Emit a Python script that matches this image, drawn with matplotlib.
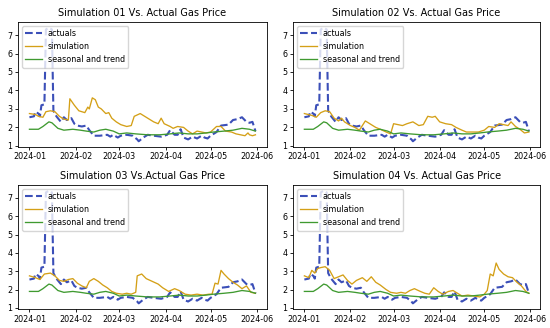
import pandas as pd
import matplotlib.pyplot as plt

# shared actual gas price
act_dates = ['2024-01-01', '2024-01-04', '2024-01-05', '2024-01-07', '2024-01-08', '2024-01-09',
             '2024-01-11', '2024-01-12', '2024-01-14', '2024-01-16', '2024-01-17', '2024-01-19',
             '2024-01-22', '2024-01-24', '2024-01-26', '2024-01-29', '2024-01-31', '2024-02-02',
             '2024-02-05', '2024-02-08', '2024-02-10', '2024-02-13', '2024-02-17', '2024-02-22',
             '2024-02-24', '2024-02-26', '2024-02-29', '2024-03-02', '2024-03-06', '2024-03-10',
             '2024-03-13', '2024-03-14', '2024-03-17', '2024-03-20', '2024-03-24', '2024-03-29',
             '2024-04-02', '2024-04-04', '2024-04-07', '2024-04-09', '2024-04-11', '2024-04-13',
             '2024-04-16', '2024-04-19', '2024-04-22', '2024-04-25', '2024-04-27', '2024-04-29',
             '2024-05-01', '2024-05-05', '2024-05-08', '2024-05-13', '2024-05-16', '2024-05-19',
             '2024-05-22', '2024-05-25', '2024-05-27', '2024-05-29', '2024-05-31']
actuals = [2.55, 2.6, 2.85, 2.75, 2.6, 3.2,
           3.25, 7.3, 7.4, 7.3, 2.9, 2.6,
           2.3, 2.55, 2.4, 2.5, 2.2, 2.1,
           2.05, 2.1, 1.85, 1.55, 1.55, 1.6,
           1.5, 1.6, 1.45, 1.55, 1.6, 1.55,
           1.35, 1.25, 1.45, 1.6, 1.55, 1.5,
           1.6, 1.85, 1.6, 1.6, 1.9, 1.45,
           1.35, 1.5, 1.4, 1.55, 1.45, 1.4,
           1.55, 1.75, 2.1, 2.15, 2.4, 2.45,
           2.55, 2.3, 2.25, 2.3, 1.8]

# seasonal and trend component
trend_dates = ['2024-01-01', '2024-01-07', '2024-01-10', '2024-01-14', '2024-01-16', '2024-01-20',
               '2024-01-24', '2024-01-30', '2024-02-04', '2024-02-08', '2024-02-13', '2024-02-17',
               '2024-02-21', '2024-02-26', '2024-03-01', '2024-03-06', '2024-03-12', '2024-03-20',
               '2024-03-28', '2024-04-04', '2024-04-10', '2024-04-16', '2024-04-22', '2024-04-28',
               '2024-05-03', '2024-05-10', '2024-05-16', '2024-05-22', '2024-05-27', '2024-05-31']
trend = [1.9, 1.9, 2.05, 2.3, 2.25, 1.95,
         1.85, 1.9, 1.85, 1.8, 1.75, 1.85,
         1.9, 1.8, 1.65, 1.7, 1.65, 1.6,
         1.6, 1.65, 1.7, 1.65, 1.65, 1.7,
         1.75, 1.8, 1.85, 1.95, 1.9, 1.8]

# simulations
sim1_dates = ['2024-01-01', '2024-01-05', '2024-01-07', '2024-01-10', '2024-01-12', '2024-01-15',
              '2024-01-18', '2024-01-21', '2024-01-24', '2024-01-27', '2024-01-28', '2024-01-31',
              '2024-02-03', '2024-02-07', '2024-02-09', '2024-02-10', '2024-02-12', '2024-02-14',
              '2024-02-16', '2024-02-18', '2024-02-21', '2024-02-23', '2024-02-25', '2024-02-28',
              '2024-03-02', '2024-03-06', '2024-03-09', '2024-03-11', '2024-03-15', '2024-03-18',
              '2024-03-21', '2024-03-24', '2024-03-27', '2024-03-29', '2024-03-31', '2024-04-04',
              '2024-04-06', '2024-04-09', '2024-04-13', '2024-04-16', '2024-04-19', '2024-04-22',
              '2024-04-25', '2024-04-28', '2024-05-01', '2024-05-05', '2024-05-08', '2024-05-11',
              '2024-05-15', '2024-05-18', '2024-05-21', '2024-05-24', '2024-05-26', '2024-05-27',
              '2024-05-29', '2024-05-31']
sim1 = [2.75, 2.7, 2.6, 2.55, 2.85, 2.9,
        2.85, 2.6, 2.45, 2.4, 3.55, 3.2,
        2.9, 2.8, 3.1, 3.0, 3.6, 3.5,
        3.1, 3.0, 2.75, 2.8, 2.5, 2.3,
        2.15, 2.05, 2.1, 2.6, 2.75, 2.6,
        2.45, 2.3, 2.2, 2.5, 2.2, 2.05,
        1.95, 2.05, 2.0, 1.8, 1.65, 1.8,
        1.75, 1.7, 1.75, 2.05, 2.05, 1.8,
        1.75, 1.65, 1.6, 1.55, 1.7, 1.6,
        1.55, 1.6]

sim2_dates = ['2024-01-01', '2024-01-06', '2024-01-09', '2024-01-12', '2024-01-15', '2024-01-18',
              '2024-01-21', '2024-01-24', '2024-01-26', '2024-01-28', '2024-02-01', '2024-02-04',
              '2024-02-07', '2024-02-11', '2024-02-14', '2024-02-18', '2024-02-21', '2024-02-25',
              '2024-02-28', '2024-03-01', '2024-03-04', '2024-03-07', '2024-03-10', '2024-03-14',
              '2024-03-18', '2024-03-21', '2024-03-24', '2024-03-27', '2024-03-29', '2024-04-01',
              '2024-04-05', '2024-04-09', '2024-04-12', '2024-04-16', '2024-04-19', '2024-04-23',
              '2024-04-27', '2024-05-01', '2024-05-04', '2024-05-08', '2024-05-11', '2024-05-14',
              '2024-05-17', '2024-05-19', '2024-05-22', '2024-05-25', '2024-05-28', '2024-05-31']
sim2 = [2.75, 2.65, 2.55, 2.8, 2.9, 2.85,
        2.5, 2.35, 2.5, 2.3, 2.1, 2.0,
        1.85, 2.35, 2.2, 2.0, 1.9, 1.75,
        1.65, 2.2, 2.15, 2.1, 2.2, 2.3,
        2.1, 2.15, 2.6, 2.55, 2.6, 2.3,
        2.2, 2.15, 2.0, 1.85, 1.75, 1.75,
        1.75, 1.85, 2.05, 2.0, 2.2, 2.15,
        2.1, 2.3, 2.05, 1.9, 1.7, 1.75]

sim3_dates = ['2024-01-01', '2024-01-05', '2024-01-08', '2024-01-11', '2024-01-15', '2024-01-18',
              '2024-01-21', '2024-01-24', '2024-01-27', '2024-01-30', '2024-02-02', '2024-02-05',
              '2024-02-08', '2024-02-10', '2024-02-13', '2024-02-16', '2024-02-19', '2024-02-22',
              '2024-02-25', '2024-02-28', '2024-03-03', '2024-03-06', '2024-03-09', '2024-03-12',
              '2024-03-13', '2024-03-16', '2024-03-19', '2024-03-23', '2024-03-27', '2024-03-30',
              '2024-04-03', '2024-04-07', '2024-04-10', '2024-04-14', '2024-04-18', '2024-04-22',
              '2024-04-26', '2024-04-30', '2024-05-02', '2024-05-04', '2024-05-06', '2024-05-08',
              '2024-05-10', '2024-05-13', '2024-05-16', '2024-05-19', '2024-05-22', '2024-05-25',
              '2024-05-28', '2024-05-31']
sim3 = [2.75, 2.65, 2.55, 2.85, 2.9, 2.75,
        2.5, 2.45, 2.55, 2.6, 2.35, 2.2,
        2.1, 2.45, 2.6, 2.45, 2.25, 2.1,
        1.9, 1.8, 1.75, 1.8, 1.75, 1.85,
        2.75, 2.85, 2.6, 2.45, 2.3, 2.1,
        1.9, 2.05, 1.95, 1.75, 1.7, 1.75,
        1.7, 1.75, 1.75, 2.35, 2.3, 3.05,
        2.85, 2.6, 2.4, 2.25, 2.05, 2.2,
        1.85, 1.8]

sim4_dates = ['2024-01-01', '2024-01-04', '2024-01-06', '2024-01-08', '2024-01-10', '2024-01-12',
              '2024-01-15', '2024-01-18', '2024-01-21', '2024-01-24', '2024-01-27', '2024-01-30',
              '2024-02-02', '2024-02-05', '2024-02-09', '2024-02-12', '2024-02-15', '2024-02-18',
              '2024-02-21', '2024-02-25', '2024-02-28', '2024-03-03', '2024-03-06', '2024-03-09',
              '2024-03-12', '2024-03-15', '2024-03-19', '2024-03-22', '2024-03-25', '2024-03-28',
              '2024-03-31', '2024-04-03', '2024-04-07', '2024-04-10', '2024-04-13', '2024-04-16',
              '2024-04-20', '2024-04-24', '2024-04-28', '2024-05-01', '2024-05-03', '2024-05-05',
              '2024-05-07', '2024-05-09', '2024-05-11', '2024-05-14', '2024-05-17', '2024-05-20',
              '2024-05-23', '2024-05-26', '2024-05-29', '2024-05-31']
sim4 = [2.75, 2.65, 3.05, 2.9, 3.15, 3.2,
        3.25, 3.05, 2.6, 2.7, 2.8, 2.5,
        2.3, 2.5, 2.65, 2.45, 2.7, 2.4,
        2.25, 2.0, 1.85, 1.8, 1.85, 1.8,
        1.95, 2.05, 1.9, 1.8, 1.75, 2.1,
        1.9, 1.75, 1.9, 1.95, 1.8, 1.65,
        1.7, 1.65, 1.6, 1.75, 1.95, 2.85,
        2.75, 3.45, 3.1, 2.85, 2.7, 2.65,
        2.4, 2.2, 1.9, 1.8]

titles = ['Simulation 01 Vs. Actual Gas Price', 'Simulation 02 Vs. Actual Gas Price',
          'Simulation 03 Vs.Actual Gas Price', 'Simulation 04 Vs. Actual Gas Price']
sims = [(sim1_dates, sim1), (sim2_dates, sim2), (sim3_dates, sim3), (sim4_dates, sim4)]

fig, axes = plt.subplots(2, 2, figsize=(5.5, 3.28), dpi=100)

# axes boxes [left, bottom, width, height] in figure fractions
boxes = [[0.033, 0.552, 0.452, 0.381], [0.533, 0.552, 0.449, 0.381],
         [0.033, 0.058, 0.452, 0.378], [0.533, 0.058, 0.449, 0.378]]

for ax, box, title, (sd, sv) in zip(axes.flat, boxes, titles, sims):
    ax.set_position(box)
    ax.plot(pd.to_datetime(act_dates), actuals, color='#3b4fb8', linestyle='--', linewidth=1.5, label='actuals')
    ax.plot(pd.to_datetime(sd), sv, color='#d4a017', linewidth=0.95, label='simulation')
    ax.plot(pd.to_datetime(trend_dates), trend, color='#3f9a30', linewidth=0.95, label='seasonal and trend')
    ax.set_title(title, fontsize=7, pad=4)
    ax.tick_params(labelsize=5.8, length=2, pad=2, width=0.6)
    ax.set_yticks([1, 2, 3, 4, 5, 6, 7])
    for s in ax.spines.values():
        s.set_linewidth(0.6)
    ax.legend(loc='upper left', fontsize=5.8)

plt.savefig('out.png')
